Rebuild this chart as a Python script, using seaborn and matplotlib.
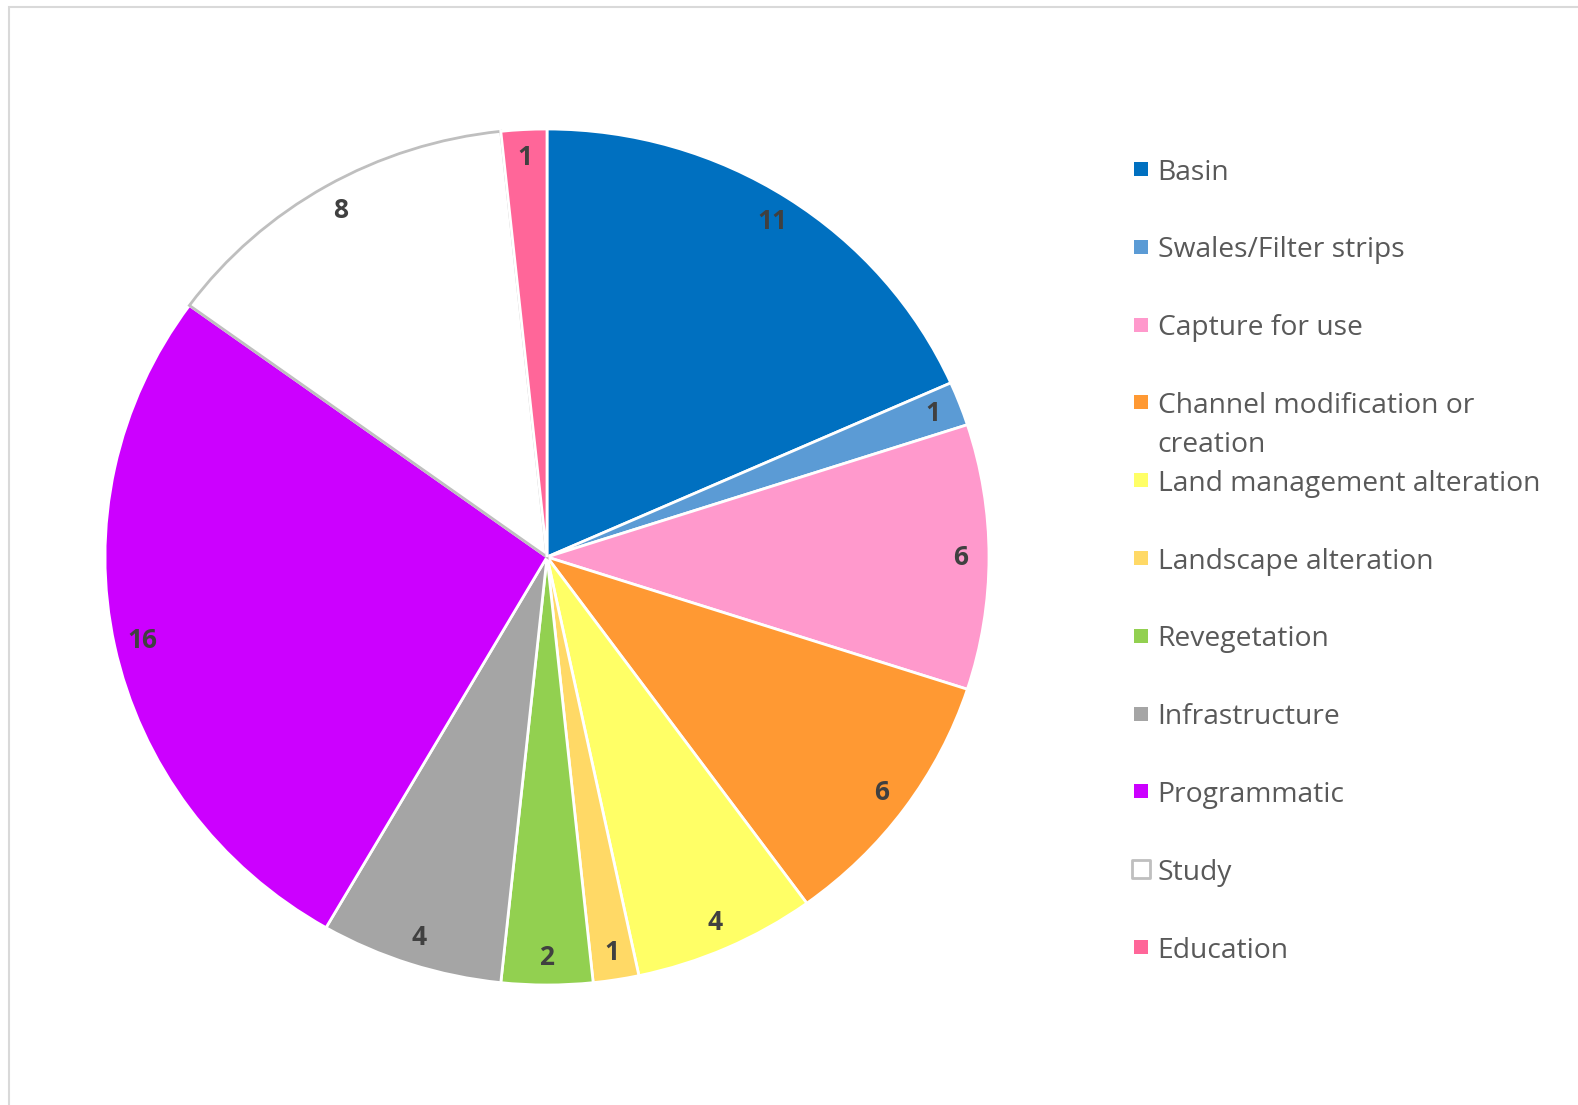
import numpy as np
import matplotlib
matplotlib.use("Agg")
import matplotlib.pyplot as plt
from matplotlib.patches import Rectangle
import seaborn as sns

categories = ["Basin", "Swales/Filter strips", "Capture for use",
              "Channel modification or\ncreation", "Land management alteration",
              "Landscape alteration", "Revegetation", "Infrastructure",
              "Programmatic", "Study", "Education"]
counts = [11, 1, 6, 6, 4, 1, 2, 4, 16, 8, 1]
colors = ["#0070C0", "#5B9BD5", "#FF99CC", "#FF9933", "#FFFF66", "#FFD966",
          "#92D050", "#A5A5A5", "#CC00FF", "#FFFFFF", "#FF6699"]

sns.set_theme(style="white")
plt.rcParams['font.family'] = ['Open Sans', 'DejaVu Sans']

W, H = 1578, 1105
fig = plt.figure(figsize=(W / 100, H / 100), dpi=100)
fig.patch.set_facecolor("white")

# chart frame (left and top visible)
fig.add_artist(Rectangle((9 / W, -0.1), 2.0, (H - 7) / H + 0.1,
                         transform=fig.transFigure, fill=False,
                         edgecolor="#d9d9d9", lw=1.5))

# pie (slightly wider than tall, as in the original screenshot)
cx, cy, rx, ry = 547, 557, 442, 428
ax = fig.add_axes([(cx - rx) / W, (H - cy - ry) / H, 2 * rx / W, 2 * ry / H])
wedges, texts, autotexts = ax.pie(
    counts, colors=colors, startangle=90, counterclock=False, radius=1,
    autopct=lambda p: f"{round(p * sum(counts) / 100):d}", pctdistance=0.935,
    wedgeprops=dict(edgecolor="white", linewidth=2),
    textprops=dict(fontsize=19, fontweight="bold", color="#404040"))
wedges[categories.index("Study")].set_edgecolor("#BFBFBF")
ax.set_aspect("auto")
ax.set_xlim(-1, 1)
ax.set_ylim(-1, 1)
ax.axis("off")

# legend
n = len(categories)
top_px, step = 169, 77.8
lx0, lx1 = 1127, 1577
lax = fig.add_axes([lx0 / W, (H - (top_px - step / 2 + n * step)) / H,
                    (lx1 - lx0) / W, n * step / H])
lax.set_xlim(0, 1)
lax.set_ylim(n - 0.5, -0.5)
lax.axis("off")
ypos = np.arange(n)
line_step = 39 / step
for i, (lab, col) in enumerate(zip(categories, colors)):
    if lab == "Study":
        lax.scatter([0.03], [ypos[i]], marker="s", s=150, facecolor="white",
                    edgecolor="#BFBFBF", linewidth=2, clip_on=False)
    else:
        lax.scatter([0.03], [ypos[i]], marker="s", s=110, color=col,
                    linewidth=0, clip_on=False)
    for k, part in enumerate(lab.split("\n")):
        lax.text(0.068, ypos[i] + k * line_step, part, va="center_baseline",
                 ha="left", fontsize=20.3, color="#595959")

fig.savefig("out.png", dpi=100)
